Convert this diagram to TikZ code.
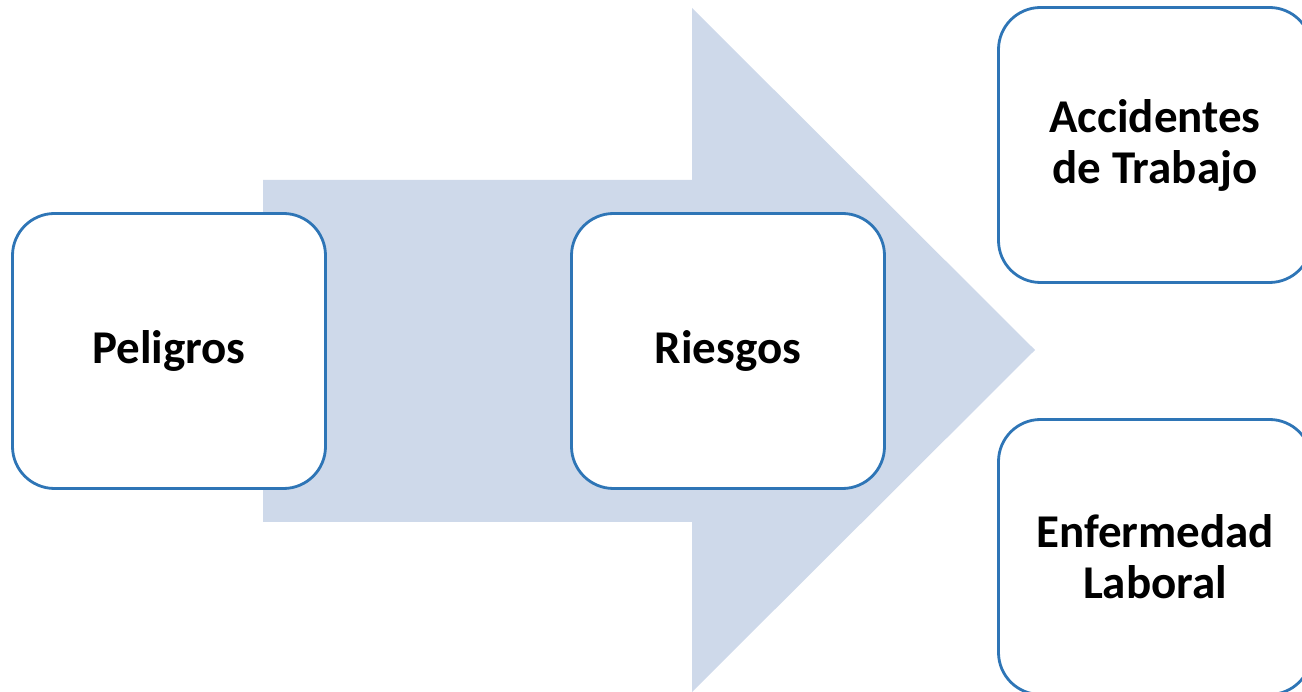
\documentclass[tikz,border=0pt]{standalone}
\usepackage{fontspec}
\setmainfont{Carlito}
\definecolor{arrowfill}{HTML}{CED9EA}
\definecolor{boxline}{HTML}{2E75B6}
\begin{document}
\begin{tikzpicture}[x=1pt,y=-1pt,
  stagebox/.style={draw=boxline, line width=2.8pt, fill=white,
    rounded corners=42pt, minimum width=313pt, minimum height=275pt,
    inner sep=0pt, align=center, font=\fontsize{47}{51}\selectfont\bfseries}]
  \useasboundingbox (0,0) rectangle (1302,692);
  \clip (0,0) rectangle (1302,692);
  % broad block arrow behind the stages
  \fill[arrowfill] (263,180) -- (692,180) -- (692,8) -- (1035,350)
    -- (692,692) -- (692,522) -- (263,522) -- cycle;
  % stages
  \node[stagebox] (peligros)   at (169,351)  {Peligros};
  \node[stagebox] (riesgos)    at (728,351)  {Riesgos};
  \node[stagebox] (accidentes) at (1155,145) {Accidentes\\de Trabajo};
  \node[stagebox] (enfermedad) at (1155,557) {Enfermedad\\Laboral};
\end{tikzpicture}
\end{document}
